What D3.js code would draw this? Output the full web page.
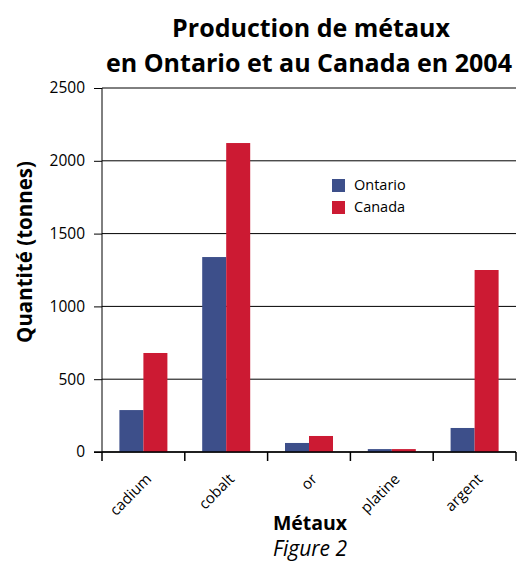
<!DOCTYPE html>
<html>
<head>
<meta charset="utf-8">
<script src="https://cdn.jsdelivr.net/npm/d3@7"></script>
<style>
  body { margin: 0; background: #fff; }
  text { font-family: "Open Sans", sans-serif; }
</style>
</head>
<body>
<div id="chart"></div>
<script>
var metaux = ["cadium", "cobalt", "or", "platine", "argent"];
var series = ["Ontario", "Canada"];
var ontario = [288, 1339, 62, 20, 165];
var canada = [680, 2122, 110, 20, 1250];
var yTicks = [0, 500, 1000, 1500, 2000, 2500];
var colors = ["#3d4f8a", "#cc1a33"];

var draw = function() {
  var width = 518, height = 561;
  var margin = {top: 88, right: 2, bottom: 109, left: 102};
  var w = width - margin.left - margin.right;
  var h = height - margin.top - margin.bottom;

  var svg = d3.select("#chart").append("svg")
    .attr("width", width)
    .attr("height", height);

  // titre
  svg.append("text")
    .attr("x", 311).attr("y", 37)
    .attr("text-anchor", "middle")
    .style("font-size", "25px").style("font-weight", "bold")
    .text("Production de métaux");
  svg.append("text")
    .attr("x", 309).attr("y", 72)
    .attr("text-anchor", "middle")
    .style("font-size", "25px").style("font-weight", "bold")
    .text("en Ontario et au Canada en 2004");

  var g = svg.append("g")
    .attr("transform", "translate(" + margin.left + "," + margin.top + ")");

  var x = d3.scaleBand().domain(metaux).range([0, w]);
  var y = d3.scaleLinear().domain([0, 2500]).range([h, 0]);
  var barW = 24;

  // grille
  g.selectAll(".grid")
    .data(yTicks)
    .enter().append("line")
    .attr("x1", 0).attr("x2", w)
    .attr("y1", function(d) { return y(d); })
    .attr("y2", function(d) { return y(d); })
    .style("stroke", "#000").style("stroke-width", 1);

  var data = metaux.map(function(m, i) {
    return {m: m, vals: [ontario[i], canada[i]]};
  });

  var groups = g.selectAll(".grp")
    .data(data)
    .enter().append("g")
    .attr("transform", function(d) {
      return "translate(" + (x(d.m) + x.bandwidth() / 2 - barW) + ",0)";
    });
  groups.selectAll("rect")
    .data(function(d) { return d.vals; })
    .enter().append("rect")
    .attr("x", function(d, i) { return i * barW; })
    .attr("width", barW)
    .attr("y", function(d) { return y(d); })
    .attr("height", function(d) { return h - y(d); })
    .style("fill", function(d, i) { return colors[i]; });

  // axe y
  var yAxis = g.append("g")
    .call(d3.axisLeft(y).tickValues(yTicks).tickFormat(d3.format("d")).tickSize(8).tickPadding(9));
  yAxis.select(".domain").attr("d", "M0,0V" + h);
  yAxis.selectAll("text").style("font-size", "15.5px").style("font-family", "Open Sans, sans-serif");

  // axe x
  var xAxis = g.append("g")
    .attr("transform", "translate(0," + h + ")");
  xAxis.append("line")
    .attr("x1", -8).attr("x2", w)
    .style("stroke", "#000").style("stroke-width", 1.5);
  xAxis.selectAll(".tk")
    .data(d3.range(metaux.length + 1))
    .enter().append("line")
    .attr("x1", function(d) { return d * x.step(); })
    .attr("x2", function(d) { return d * x.step(); })
    .attr("y1", 0).attr("y2", 9)
    .style("stroke", "#000").style("stroke-width", 1.5);
  xAxis.selectAll(".lbl")
    .data(metaux)
    .enter().append("text")
    .attr("text-anchor", "end")
    .attr("transform", function(d) {
      return "translate(" + (x(d) + x.bandwidth() / 2 + 9) + ",28) rotate(-45)";
    })
    .style("font-size", "15px")
    .text(function(d) { return d; });

  // légende
  var leg = svg.append("g").attr("transform", "translate(332,179)");
  series.forEach(function(s, i) {
    leg.append("rect")
      .attr("x", 0).attr("y", i * 22)
      .attr("width", 13).attr("height", 13)
      .style("fill", colors[i]);
    leg.append("text")
      .attr("x", 22).attr("y", i * 22 + 11)
      .style("font-size", "14.5px")
      .text(s);
  });

  // titres des axes
  svg.append("text")
    .attr("transform", "translate(32,252) rotate(-90)")
    .attr("text-anchor", "middle")
    .style("font-size", "20.5px").style("font-weight", "bold")
    .text("Quantité (tonnes)");
  svg.append("text")
    .attr("x", 310).attr("y", 530)
    .attr("text-anchor", "middle")
    .style("font-size", "19.5px").style("font-weight", "bold")
    .text("Métaux");
  svg.append("text")
    .attr("x", 310).attr("y", 556)
    .attr("text-anchor", "middle")
    .style("font-size", "21px").style("font-style", "italic")
    .text("Figure 2");
};
draw();
</script>
</body>
</html>
